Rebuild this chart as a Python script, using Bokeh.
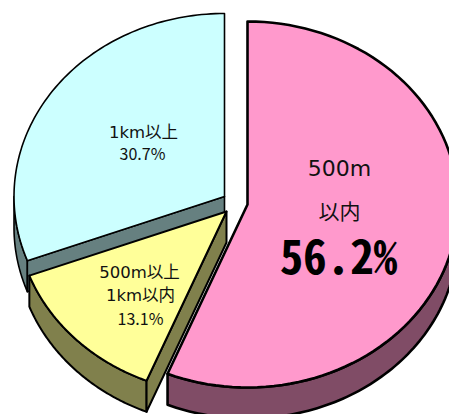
import numpy as np
from bokeh.core.properties import value
from bokeh.embed import file_html
from bokeh.plotting import figure
from bokeh.resources import INLINE

# Share of each distance band, in percent, clockwise from twelve o'clock
categories = ["500m以内", "500m以上1km以内", "1km以上"]
shares = [56.2, 13.1, 30.7]
top_colors = ["#FF99CC", "#FFFF99", "#CCFFFF"]
side_colors = ["#804C66", "#80804C", "#668080"]
edge_widths = [2.6, 2.0, 1.6]

# Each slice is pulled out of the pie, so each has its own apex
apex_x = [247, 226, 224]
apex_y = [204, 211, 196]
RX, RY, DEPTH = 210.5, 183, 31


def rim(cx, cy, a0, a1, n=90):
    t = np.radians(np.linspace(a0, a1, n))
    return cx + RX * np.sin(t), cy - RY * np.cos(t)


p = figure(width=449, height=414, x_range=(0, 449), y_range=(414, 0),
           output_backend="svg", toolbar_location=None, min_border=0,
           outline_line_color=None, background_fill_color="white")
p.axis.visible = False
p.grid.visible = False

# Start angles running clockwise; the pink slice starts at the top
ends = np.cumsum(shares) * 3.6
starts = ends - np.array(shares) * 3.6

# Painted back to front: blue, then yellow, then pink
for i in [2, 1, 0]:
    cx, cy = apex_x[i], apex_y[i]
    a0, a1 = starts[i], ends[i]
    style = dict(line_color="black", line_width=edge_widths[i], line_join="round")

    # Outer wall, only where the rim faces the viewer
    w0, w1 = max(a0, 90), min(a1, 270)
    if w1 > w0:
        wx, wy = rim(cx, cy, w0, w1)
        p.patch(np.r_[wx, wx[::-1]], np.r_[wy, wy[::-1] + DEPTH],
                fill_color=side_colors[i], **style)

    # Cut wall, for the edge whose radius faces the viewer
    if i in (1, 2):
        ex, ey = rim(cx, cy, a0, a0, 1)
        p.patch([cx, ex[0], ex[0], cx], [cy, ey[0], ey[0] + DEPTH, cy + DEPTH],
                fill_color=side_colors[i], **style)

    # Top face
    tx, ty = rim(cx, cy, a0, a1)
    p.patch(np.r_[cx, tx], np.r_[cy, ty], fill_color=top_colors[i], **style)

# Slice labels
JP = "Noto Sans CJK JP"
WIDE = "DejaVu Sans, Noto Sans CJK JP"
name_text = ["1km以上", "500m以上", "1km以内"]
name_x = [143, 139, 140]
name_y = [132, 272, 295]
p.text(name_x, name_y, text=name_text, text_font=value(WIDE), text_font_size="16.5px",
       text_align="center", text_baseline="middle", text_color="#111111")

percent_text = ["30.7%", "13.1%"]
percent_x = [142, 140]
percent_y = [152, 317]
p.text(percent_x, percent_y, text=percent_text, text_font=value(JP), text_font_size="16px",
       text_align="center", text_baseline="middle", text_color="#111111")

p.text([339], [168], text=["500m"], text_font=value("DejaVu Sans"), text_font_size="22px",
       text_align="center", text_baseline="middle", text_color="#111111")
p.text([339], [209], text=["以内"], text_font=value(JP), text_font_size="21px",
       text_align="center", text_baseline="middle", text_color="#111111")
p.text([338], [253], text=["56.2%"], text_font=value("Noto Sans Mono CJK JP"),
       text_font_size="47px", text_font_style="bold",
       text_align="center", text_baseline="middle", text_color="black")

open("out.html", "w").write(file_html(p, INLINE))
